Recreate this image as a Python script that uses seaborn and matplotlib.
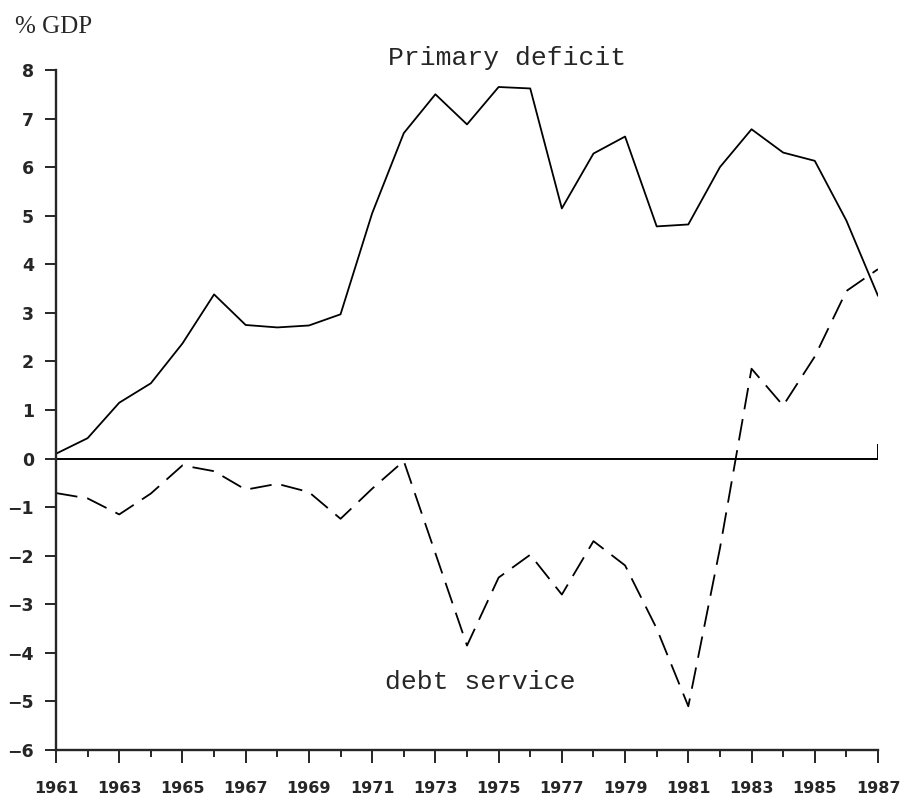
import matplotlib
matplotlib.use("Agg")
import matplotlib.pyplot as plt
import pandas as pd
import seaborn as sns
from matplotlib.ticker import MultipleLocator

# Data (% of GDP)
years = list(range(1961, 1988))
primary_deficit = [0.10, 0.42, 1.15, 1.55, 2.37, 3.38, 2.75, 2.70, 2.74, 2.97,
                   5.05, 6.70, 7.50, 6.88, 7.65, 7.62, 5.15, 6.28, 6.63, 4.78,
                   4.82, 6.00, 6.78, 6.30, 6.13, 4.90, 3.35]
debt_service = [-0.71, -0.82, -1.15, -0.72, -0.14, -0.26, -0.64, -0.52, -0.69, -1.24,
                -0.62, -0.05, -1.95, -3.85, -2.45, -1.98, -2.80, -1.70, -2.20, -3.50,
                -5.10, -1.85, 1.85, 1.09, 2.10, 3.45, 3.90]
series_names = ["Primary deficit", "debt service"]
year_labels = [str(y) for y in range(1961, 1988, 2)]

df = pd.DataFrame({
    "year": years * 2,
    "value": primary_deficit + debt_service,
    "series": [series_names[0]] * len(years) + [series_names[1]] * len(years),
})

sns.set_style("ticks")
plt.rcParams["font.family"] = ["DejaVu Sans"]

fig = plt.figure(figsize=(9.04, 8.08), dpi=100)
ax = fig.add_axes([56 / 904, 1 - 750 / 808, (878 - 56) / 904, (750 - 70) / 808])

sns.lineplot(data=df, x="year", y="value", style="series",
             dashes={series_names[0]: "", series_names[1]: (12, 5.5)},
             color="black", linewidth=1.3, legend=False, ax=ax)

# zero line across the plot
ax.axhline(0, color="black", linewidth=1.4, zorder=1)
ax.vlines(years[-1], 0, 0.3, color="black", linewidth=1.4)

ax.set_xlim(years[0], years[-1])
ax.set_ylim(-6, 8)
ax.set_xticks(range(1961, 1988, 2))
ax.set_xticklabels(year_labels)
ax.xaxis.set_minor_locator(MultipleLocator(1))
ax.set_yticks(range(-6, 9))
ax.set_yticklabels([str(v).replace("-", "\u2212") for v in range(-6, 9)])

for s in ["top", "right"]:
    ax.spines[s].set_visible(False)
for s in ["left", "bottom"]:
    ax.spines[s].set_linewidth(1.7)

ax.tick_params(axis="x", which="major", direction="out", length=9, width=1.4,
               pad=13, labelsize=11.5)
ax.tick_params(axis="x", which="minor", direction="out", length=5, width=1.4)
ax.tick_params(axis="y", which="major", direction="out", length=8, width=1.4,
               pad=8, labelsize=12.5)
for lab in ax.get_xticklabels() + ax.get_yticklabels():
    lab.set_fontweight("bold")

ax.set_xlabel("")
ax.set_ylabel("")

ax.text(1971.5, 8.25, "Primary deficit", family="Liberation Mono", fontsize=19,
        ha="left", va="center")
ax.text(1971.4, -4.59, "debt service", family="Liberation Mono", fontsize=19,
        ha="left", va="center")
fig.text(15 / 904, 1 - 27 / 808, "% GDP", family="Liberation Serif", fontsize=18,
         ha="left", va="center")

fig.savefig("out.png", dpi=100)
